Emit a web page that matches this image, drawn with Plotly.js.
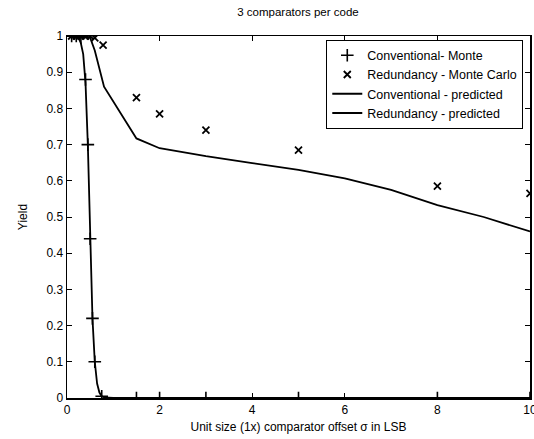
<!DOCTYPE html>
<html>
<head>
<meta charset="utf-8">
<script src="https://cdn.plot.ly/plotly-3.0.1.min.js"></script>
<style>html,body{margin:0;padding:0;background:#fff;}#chart{width:534px;height:439px;}</style>
</head>
<body>
<div id="chart"></div>
<script>
// Conventional - Monte Carlo ('+')
const convMcX = [0.1, 0.2, 0.3, 0.4, 0.45, 0.5, 0.55, 0.6, 0.75, 1.5, 2, 3, 5, 8, 10];
const convMcY = [1, 1, 0.995, 0.88, 0.70, 0.44, 0.22, 0.10, 0.005, 0, 0, 0, 0, 0, 0];
// Redundancy - Monte Carlo ('x')
const redMcX = [0.1, 0.2, 0.3, 0.4, 0.5, 0.6, 0.78, 1.5, 2, 3, 5, 8, 10];
const redMcY = [1, 1, 1, 1, 1, 0.995, 0.975, 0.83, 0.785, 0.74, 0.685, 0.585, 0.565];
// Conventional - predicted
const convPredX = [0, 0.2, 0.25, 0.3, 0.35, 0.4, 0.45, 0.5, 0.55, 0.6, 0.65, 0.7, 0.75, 0.8, 1, 1.5, 2, 3, 4, 5, 6, 7, 8, 9, 10];
const convPredY = [1, 1, 0.995, 0.98, 0.95, 0.87, 0.70, 0.44, 0.22, 0.10, 0.04, 0.015, 0.005, 0.002, 0, 0, 0, 0, 0, 0, 0, 0, 0, 0, 0];
// Redundancy - predicted
const redPredX = [0, 0.4, 0.5, 0.6, 0.8, 1.5, 2, 3, 4, 5, 6, 7, 8, 9, 10];
const redPredY = [1, 1, 0.995, 0.96, 0.86, 0.717, 0.69, 0.668, 0.649, 0.63, 0.607, 0.575, 0.533, 0.50, 0.46];

const names = ['Conventional- Monte', 'Redundancy - Monte Carlo', 'Conventional - predicted', 'Redundancy - predicted'];
const xTicks = [0, 2, 4, 6, 8, 10];
const yTicks = [0, 0.1, 0.2, 0.3, 0.4, 0.5, 0.6, 0.7, 0.8, 0.9, 1];

const data = [
  {x: convMcX, y: convMcY, name: names[0], mode: 'markers', type: 'scatter',
   marker: {symbol: 'cross-thin-open', size: 9, color: '#000', line: {color: '#000', width: 1.6}}},
  {x: redMcX, y: redMcY, name: names[1], mode: 'markers', type: 'scatter',
   marker: {symbol: 'x-thin-open', size: 7, color: '#000', line: {color: '#000', width: 1.8}}},
  {x: convPredX, y: convPredY, name: names[2], mode: 'lines', type: 'scatter',
   line: {color: '#000', width: 1.8}},
  {x: redPredX, y: redPredY, name: names[3], mode: 'lines', type: 'scatter',
   line: {color: '#000', width: 1.8}}
];

const axisCommon = {
  showgrid: false, zeroline: false, showline: true, linecolor: '#000', linewidth: 1.5,
  mirror: 'ticks', ticks: 'inside', ticklen: 5, tickcolor: '#000', tickwidth: 1,
  tickfont: {family: 'Liberation Sans, Arial, sans-serif', size: 12, color: '#000'}
};

const layout = {
  width: 534, height: 439,
  margin: {l: 67, r: 4, t: 36, b: 41},
  paper_bgcolor: '#fff', plot_bgcolor: '#fff',
  showlegend: true,
  title: {text: '3 comparators per code', x: 0.558, xanchor: 'center', y: 0.972, yanchor: 'middle',
          font: {family: 'Liberation Sans, Arial, sans-serif', size: 11.5, color: '#000'}},
  xaxis: Object.assign({}, axisCommon, {
    range: [0, 10], tickvals: xTicks, ticktext: xTicks.map(String), ticklabeloverflow: 'allow',
    title: {text: 'Unit size (1x) comparator offset σ in LSB', standoff: 6,
            font: {family: 'Liberation Sans, Arial, sans-serif', size: 12, color: '#000'}}
  }),
  yaxis: Object.assign({}, axisCommon, {
    range: [0, 1], tickvals: yTicks, ticktext: yTicks.map(String),
    title: {text: 'Yield', standoff: 16,
            font: {family: 'Liberation Sans, Arial, sans-serif', size: 12, color: '#000'}}
  }),
  legend: {
    x: 0.56, y: 0.99, xanchor: 'left', yanchor: 'top',
    bgcolor: '#fff', bordercolor: '#000', borderwidth: 1,
    font: {family: 'Liberation Sans, Arial, sans-serif', size: 12.5, color: '#000'},
    tracegroupgap: 0, itemwidth: 30
  }
};

Plotly.newPlot('chart', data, layout, {displayModeBar: false, staticPlot: true});
</script>
</body>
</html>
